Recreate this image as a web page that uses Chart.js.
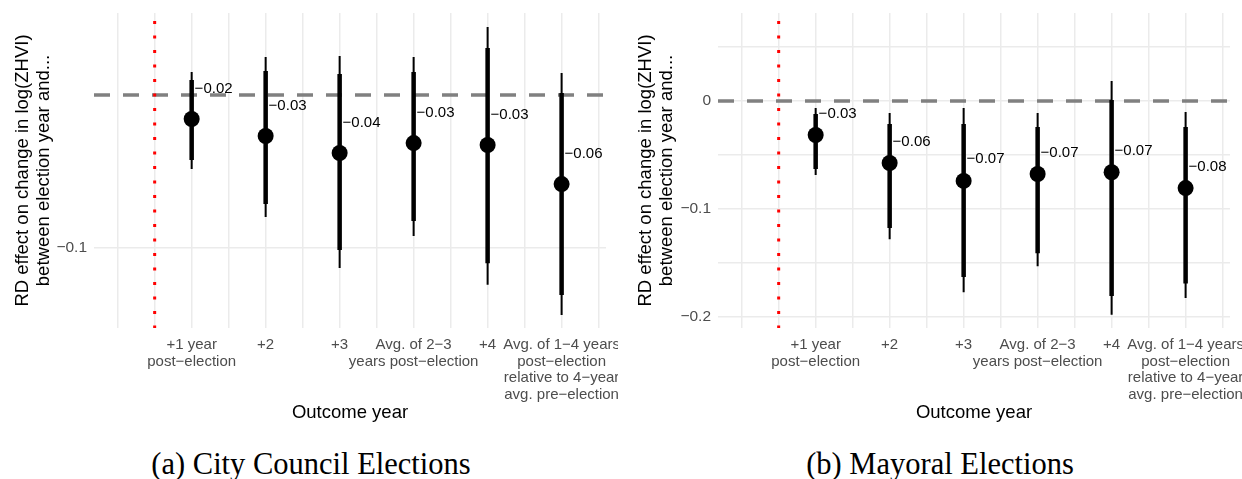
<!DOCTYPE html>
<html>
<head>
<meta charset="utf-8">
<script src="https://cdn.jsdelivr.net/npm/chart.js@4.4.1/dist/chart.umd.min.js"></script>
<style>
  html, body { margin: 0; padding: 0; background: #fff; }
  #page { position: relative; width: 1242px; height: 479px; overflow: hidden; }
  canvas { position: absolute; top: 0; }
  #councilChart { left: 0; }
  #mayorChart { left: 620px; }
  .caption {
    position: absolute; top: 449px; width: 622px; text-align: center;
    font-family: "Liberation Serif", "Times New Roman", serif;
    font-size: 30.5px; line-height: 30.5px; color: #000; white-space: nowrap;
  }
</style>
</head>
<body>
<div id="page">
  <canvas id="councilChart" width="618" height="440"></canvas>
  <canvas id="mayorChart" width="622" height="440"></canvas>
  <div class="caption" style="left: 0">(a) City Council Elections</div>
  <div class="caption" style="left: 629px">(b) Mayoral Elections</div>
</div>

<script>
const outcomeLabels = [
  ['+1 year', 'post−election'],
  '+2',
  '+3',
  ['Avg. of 2−3', 'years post−election'],
  '+4',
  ['Avg. of 1−4 years', 'post−election', 'relative to 4−year', 'avg. pre−election']
]
const outcomeX = [1, 2, 3, 4, 5, 6]
const xBreaks = [0, 0.5, 1, 1.5, 2, 2.5, 3, 3.5, 4, 4.5, 5, 5.5, 6, 6.5]
const cutoffX = 0.5
const nullEffect = 0

// city council: point estimate, thick (inner) and thin (outer) intervals
const councilEst     = [-0.0157, -0.0268, -0.0379, -0.0314, -0.0327, -0.0582]
const councilInnerLo = [-0.0425, -0.0712, -0.1013, -0.0824, -0.1100, -0.1307]
const councilInnerHi = [ 0.0098,  0.0157,  0.0137,  0.0150,  0.0307,  0.0013]
const councilOuterLo = [-0.0484, -0.0797, -0.1130, -0.0922, -0.1240, -0.1438]
const councilOuterHi = [ 0.0150,  0.0248,  0.0255,  0.0248,  0.0444,  0.0144]
const councilYBreaks = [-0.1]
const councilYLabelled = [-0.1]

// mayoral
const mayorEst     = [-0.0315, -0.0574, -0.0740, -0.0676, -0.0660, -0.0806]
const mayorInnerLo = [-0.0630, -0.1176, -0.1630, -0.1410, -0.1806, -0.1690]
const mayorInnerHi = [-0.0120, -0.0213, -0.0213, -0.0240,  0.0010, -0.0240]
const mayorOuterLo = [-0.0685, -0.1280, -0.1770, -0.1530, -0.1980, -0.1824]
const mayorOuterHi = [-0.0065, -0.0110, -0.0065, -0.0110,  0.0185, -0.0102]
const mayorYBreaks = [0.05, 0, -0.05, -0.1, -0.15, -0.2]
const mayorYLabelled = [0, -0.1, -0.2]

const sans = '"Liberation Sans", Arial, sans-serif'
const xMin = -0.32, xMax = 6.6
const labelNudgeX = 0.04, labelNudgeY = 0.02

const minus = s => s.replace('-', '−')

// vertical segments joined into one line, broken by null gaps
const segments = (lo, hi) => {
  const pts = []
  outcomeX.forEach((x, i) => {
    pts.push({ x, y: lo[i] }, { x, y: hi[i] }, { x, y: null })
  })
  return pts
}

const valueLabels = {
  id: 'valueLabels',
  afterDatasetsDraw(chart, args, opts) {
    const { ctx, scales: { x, y } } = chart
    ctx.save()
    ctx.font = '15px ' + sans
    ctx.fillStyle = '#000'
    ctx.textAlign = 'left'
    ctx.textBaseline = 'middle'
    opts.values.forEach((v, i) => {
      ctx.fillText(minus(v.toFixed(2)),
        x.getPixelForValue(outcomeX[i] + labelNudgeX),
        y.getPixelForValue(v + labelNudgeY))
    })
    ctx.restore()
  }
}

const makeChart = (id, cfg) => {
  const grid = { color: '#ebebeb', lineWidth: 1.5, drawTicks: false }
  return new Chart(document.getElementById(id), {
    type: 'scatter',
    data: {
      datasets: [
        { data: outcomeX.map((x, i) => ({ x, y: cfg.est[i] })),
          pointRadius: 8, backgroundColor: '#000', borderWidth: 0 },
        { data: segments(cfg.innerLo, cfg.innerHi), showLine: true, spanGaps: false,
          borderColor: '#000', borderWidth: 4.5, pointRadius: 0 },
        { data: segments(cfg.outerLo, cfg.outerHi), showLine: true, spanGaps: false,
          borderColor: '#000', borderWidth: 2, pointRadius: 0 },
        { data: [{ x: cutoffX, y: cfg.yMax }, { x: cutoffX, y: cfg.yMin }], showLine: true,
          borderColor: '#ff0000', borderWidth: 3, borderDash: [3, 11.5], borderDashOffset: 6.5,
          pointRadius: 0 },
        { data: [{ x: xMin, y: nullEffect }, { x: xMax, y: nullEffect }], showLine: true,
          borderColor: '#808080', borderWidth: 3.5, borderDash: [16, 13], pointRadius: 0 }
      ]
    },
    options: {
      responsive: false,
      animation: false,
      events: [],
      layout: { padding: { top: 13, right: 12, bottom: 0, left: 0 } },
      plugins: {
        legend: { display: false },
        tooltip: { enabled: false },
        valueLabels: { values: cfg.est }
      },
      scales: {
        x: {
          type: 'linear', position: 'bottom', min: xMin, max: xMax,
          afterBuildTicks: s => { s.ticks = xBreaks.map(value => ({ value })) },
          afterFit: s => { s.height = 112; s.paddingLeft = 0; s.paddingRight = 0 },
          grid, border: { display: false },
          ticks: {
            autoSkip: false, maxRotation: 0, minRotation: 0, padding: 9,
            color: '#4d4d4d', font: { family: sans, size: 15, lineHeight: 1.1 },
            callback: v => {
              const i = outcomeX.indexOf(v)
              return i < 0 ? '' : outcomeLabels[i]
            }
          },
          title: {
            display: true, text: 'Outcome year', color: '#000',
            font: { family: sans, size: 18.5 }, padding: { top: 0, bottom: 16 }
          }
        },
        y: {
          type: 'linear', min: cfg.yMin, max: cfg.yMax,
          afterBuildTicks: s => { s.ticks = cfg.yBreaks.map(value => ({ value })) },
          afterFit: s => { s.width = cfg.axisWidth; s.paddingTop = 0; s.paddingBottom = 0 },
          grid, border: { display: false },
          ticks: {
            padding: 7, color: '#4d4d4d', font: { family: sans, size: 15.5 },
            callback: v => cfg.yLabelled.includes(v) ? minus(String(v)) : ''
          },
          title: {
            display: true,
            text: ['RD effect on change in log(ZHVI)', 'between election year and...'],
            color: '#000', font: { family: sans, size: 18.5, lineHeight: 1.135 },
            padding: { top: cfg.titlePad, bottom: 0 }
          }
        }
      }
    },
    plugins: [valueLabels]
  })
}

makeChart('councilChart', {
  est: councilEst, innerLo: councilInnerLo, innerHi: councilInnerHi,
  outerLo: councilOuterLo, outerHi: councilOuterHi,
  yMin: -0.1523, yMax: 0.0536, yBreaks: councilYBreaks, yLabelled: councilYLabelled,
  axisWidth: 94, titlePad: 12
})

makeChart('mayorChart', {
  est: mayorEst, innerLo: mayorInnerLo, innerHi: mayorInnerHi,
  outerLo: mayorOuterLo, outerHi: mayorOuterHi,
  yMin: -0.2102, yMax: 0.0815, yBreaks: mayorYBreaks, yLabelled: mayorYLabelled,
  axisWidth: 98, titlePad: 15
})
</script>
</body>
</html>
